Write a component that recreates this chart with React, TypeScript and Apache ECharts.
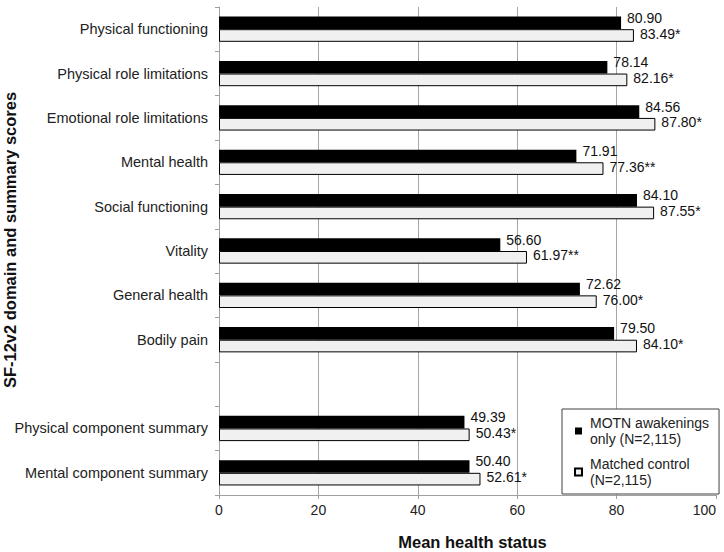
import React, { useEffect, useRef } from "react";
import * as echarts from "echarts";

const categories = [
  "Physical functioning",
  "Physical role limitations",
  "Emotional role limitations",
  "Mental health",
  "Social functioning",
  "Vitality",
  "General health",
  "Bodily pain",
  "",
  "Physical component summary",
  "Mental component summary",
];

const motnValues = [80.9, 78.14, 84.56, 71.91, 84.1, 56.6, 72.62, 79.5, null, 49.39, 50.4];
const controlValues = [83.49, 82.16, 87.8, 77.36, 87.55, 61.97, 76.0, 84.1, null, 50.43, 52.61];

const motnLabels = ["80.90", "78.14", "84.56", "71.91", "84.10", "56.60", "72.62", "79.50", "", "49.39", "50.40"];
const controlLabels = ["83.49*", "82.16*", "87.80*", "77.36**", "87.55*", "61.97**", "76.00*", "84.10*", "", "50.43*", "52.61*"];

const seriesNames = ["MOTN awakenings\nonly (N=2,115)", "Matched control\n(N=2,115)"];
const xAxisTitle = "Mean health status";
const yAxisTitle = "SF-12v2 domain and summary scores";

const FONT = 'Arial, "Liberation Sans", Helvetica, sans-serif';

export default function App() {
  const ref = useRef<HTMLDivElement>(null);

  useEffect(() => {
    if (!ref.current) return;
    const chart = echarts.init(ref.current, undefined, { renderer: "svg" });
    chart.setOption({
      animation: false,
      backgroundColor: "#ffffff",
      textStyle: { fontFamily: FONT },
      grid: { left: 219, right: 8, top: 7, bottom: 57, containLabel: false, outerBoundsMode: "none" },
      graphic: [
        {
          type: "text",
          x: 10,
          y: 240,
          rotation: Math.PI / 2,
          style: {
            text: yAxisTitle,
            fontFamily: FONT,
            fontSize: 16.5,
            fontWeight: "bold",
            fill: "#111",
            align: "center",
            verticalAlign: "middle",
          },
        },
      ],
      legend: {
        orient: "vertical",
        left: 562,
        top: 409,
        width: 150,
        backgroundColor: "#ffffff",
        borderColor: "#404040",
        borderWidth: 1,
        padding: [6, 10, 6, 12],
        itemWidth: 7,
        itemHeight: 7,
        itemGap: 9,
        icon: "rect",
        textStyle: { fontFamily: FONT, fontSize: 14, color: "#222", lineHeight: 16, padding: [0, 0, 0, 3] },
        data: seriesNames,
      },
      xAxis: {
        type: "value",
        min: 0,
        max: 100,
        interval: 20,
        name: xAxisTitle,
        nameLocation: "middle",
        nameGap: 38,
        nameMoveOverlap: false,
        nameTextStyle: { fontFamily: FONT, fontSize: 16.5, fontWeight: "bold", color: "#111", padding: [0, 0, 0, 10] },
        axisLine: { show: true, lineStyle: { color: "#a0a0a0", width: 1 } },
        axisTick: { show: true, length: 4, lineStyle: { color: "#a0a0a0" } },
        axisLabel: { fontFamily: FONT, fontSize: 14, color: "#222", margin: 8, alignMaxLabel: "right" },
        splitLine: { show: true, showMinLine: false, showMaxLine: false, lineStyle: { color: "#a6a6a6", width: 1 } },
      },
      yAxis: {
        type: "category",
        inverse: true,
        data: categories,
        axisLine: { show: true, lineStyle: { color: "#a0a0a0", width: 1 } },
        axisTick: { show: true, length: 4, lineStyle: { color: "#a0a0a0" } },
        axisLabel: { fontFamily: FONT, fontSize: 14.5, color: "#222", margin: 11 },
        splitLine: { show: false },
      },
      series: [
        {
          name: seriesNames[0],
          type: "bar",
          data: motnValues,
          barGap: "0%",
          barCategoryGap: "43%",
          itemStyle: { color: "#000000" },
          label: {
            show: true,
            position: "right",
            distance: 6,
            offset: [0, -5],
            fontFamily: FONT,
            fontSize: 14,
            color: "#111",
            formatter: (p: any) => motnLabels[p.dataIndex],
          },
        },
        {
          name: seriesNames[1],
          type: "bar",
          data: controlValues,
          barGap: "0%",
          barCategoryGap: "43%",
          itemStyle: { color: "#f0f0f0", borderColor: "#000000", borderWidth: 1 },
          label: {
            show: true,
            position: "right",
            distance: 6,
            offset: [0, -2],
            fontFamily: FONT,
            fontSize: 14,
            color: "#111",
            formatter: (p: any) => controlLabels[p.dataIndex],
          },
        },
      ],
    });
    return () => chart.dispose();
  }, []);

  return (
    <div
      ref={ref}
      style={{ position: "fixed", left: 0, top: 0, width: 724, height: 552, background: "#fff" }}
    />
  );
}
